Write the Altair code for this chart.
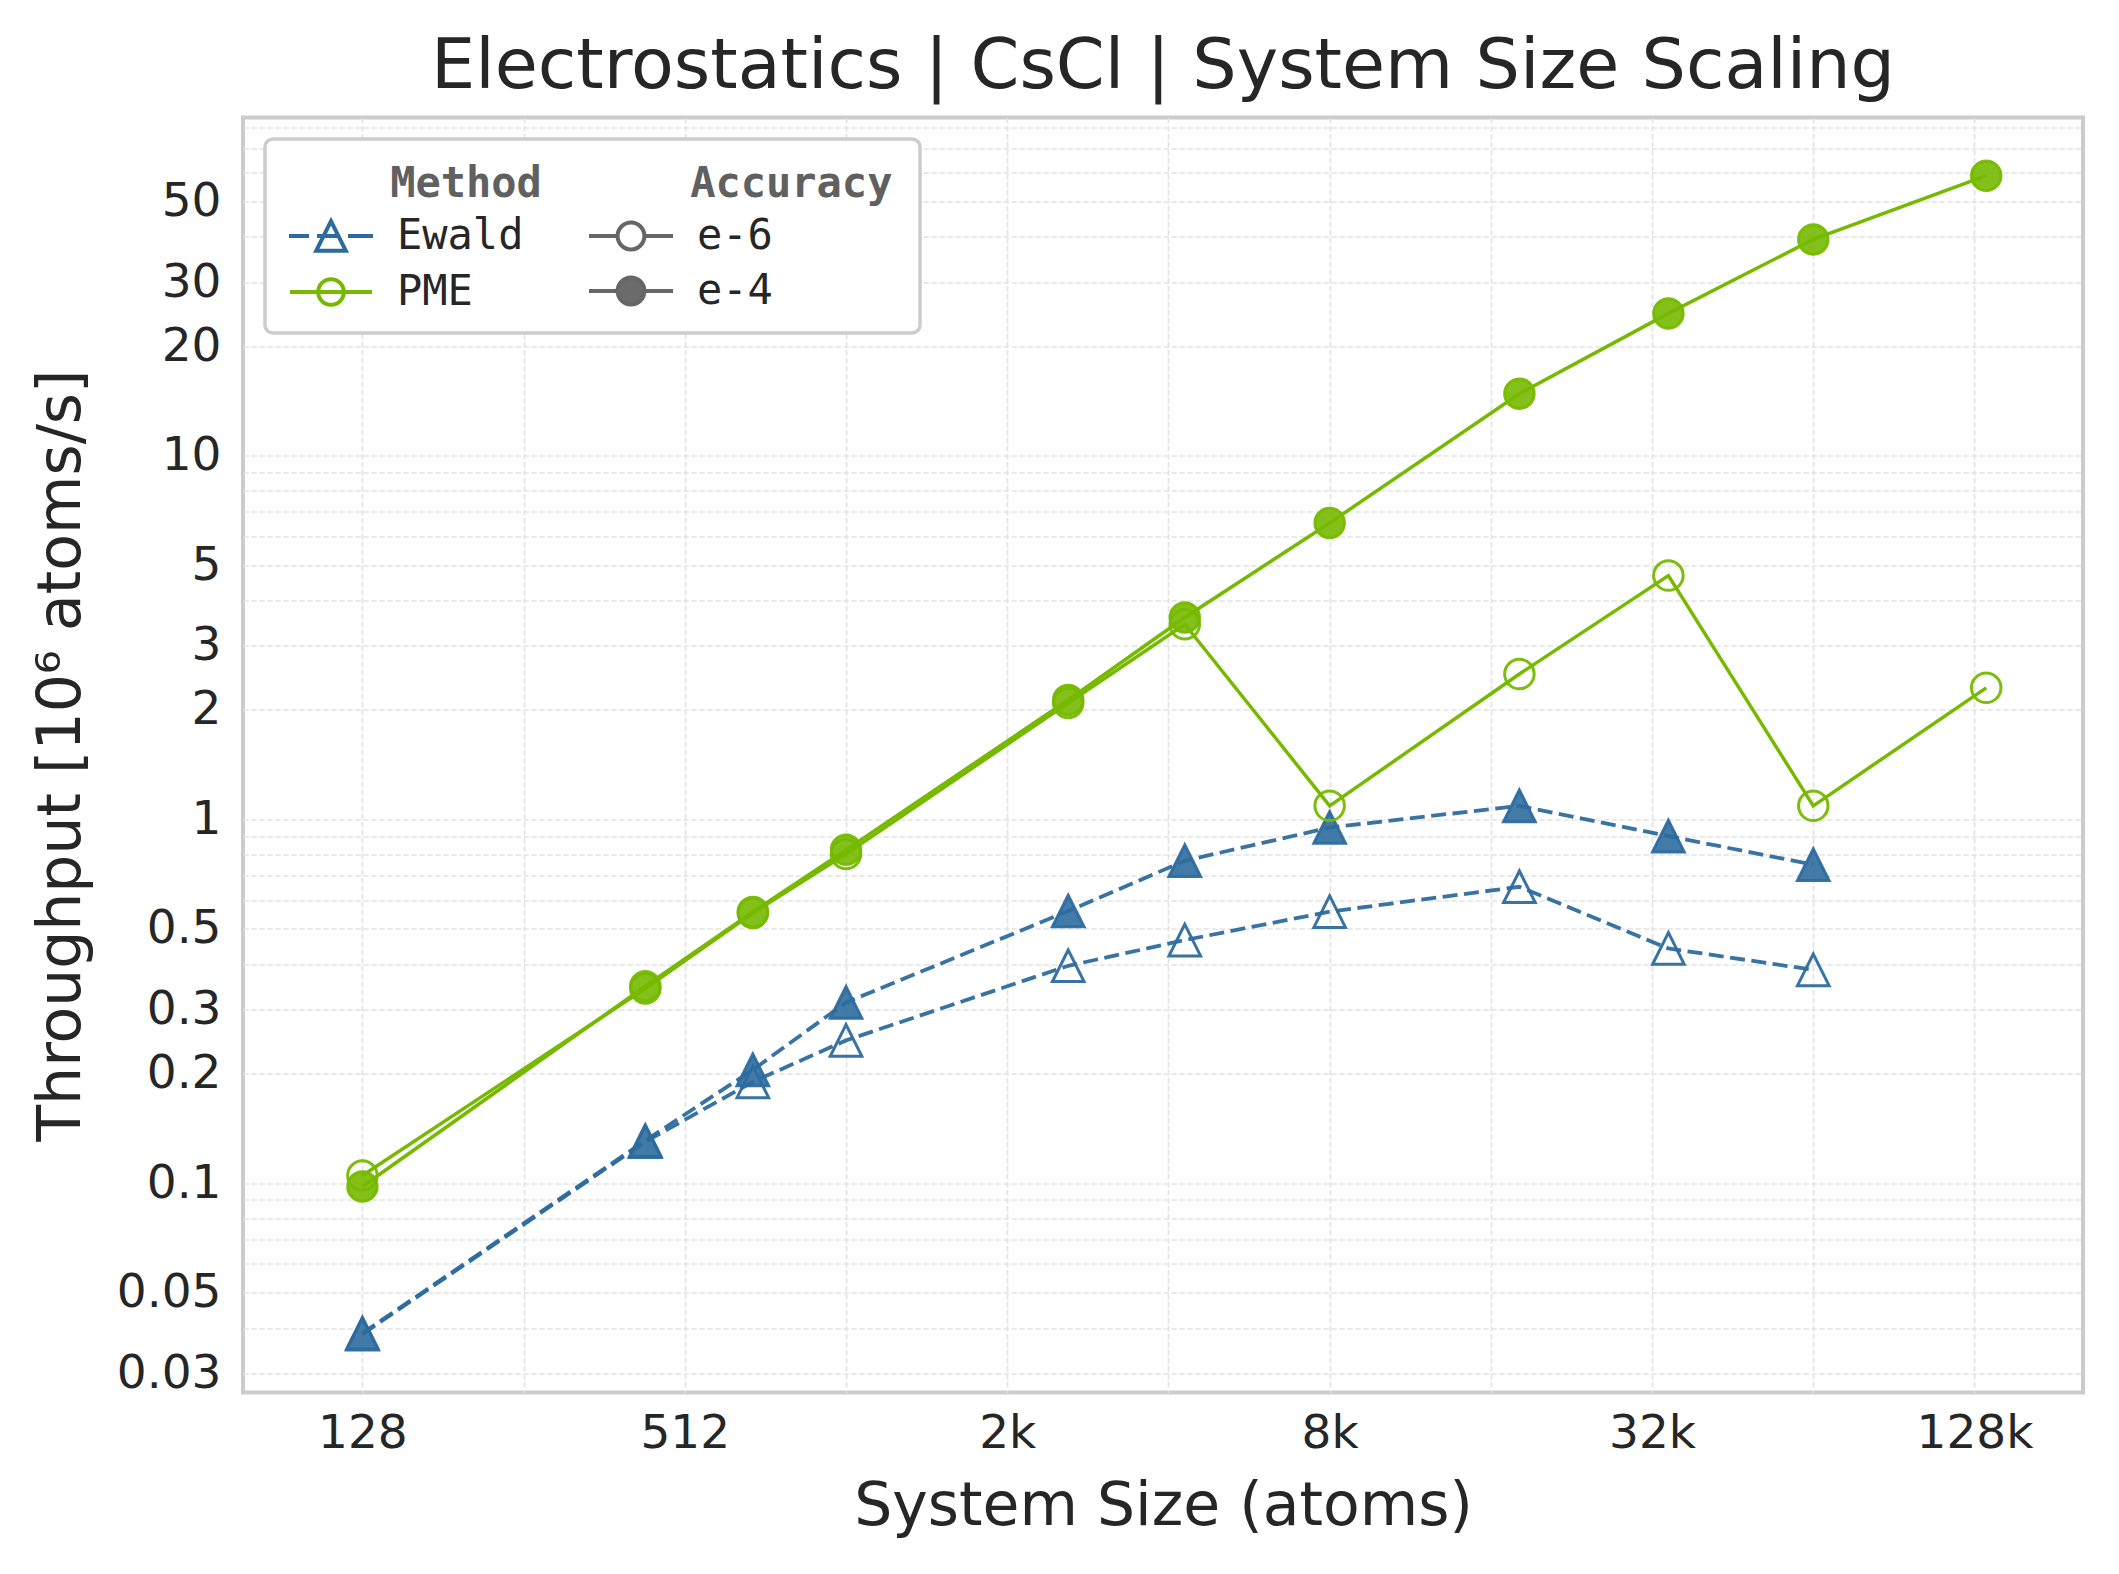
import altair as alt
import pandas as pd

# ---------------- data ----------------
SIZES = [128, 432, 686, 1024, 2662, 4394, 8192, 18522, 35152, 65536, 137842]
PME_E4 = [0.098, 0.348, 0.557, 0.825, 2.13, 3.59, 6.53, 14.8, 24.6, 39.3, 58.8]
PME_E6 = [0.105, 0.343, 0.553, 0.804, 2.09, 3.44, 1.09, 2.51, 4.68, 1.09, 2.30]
EWALD_SIZES = SIZES[:10]
EWALD_E4 = [0.0387, 0.131, 0.205, 0.314, 0.56, 0.77, 0.95, 1.09, 0.90, 0.751]
EWALD_E6 = [0.0385, 0.130, 0.190, 0.247, 0.396, 0.466, 0.558, 0.653, 0.442, 0.386]

METHODS = ["Ewald", "PME"]
ACCS = ["e-6", "e-4"]

X_GRID = [128 * 2 ** k for k in range(11)]
X_LABELS = {128: "128", 512: "512", 2048: "2k", 8192: "8k", 32768: "32k", 131072: "128k"}
Y_GRID = sorted(round(m * 10 ** k, 4) for k in range(-2, 2) for m in range(1, 10)
                if 0.0266 <= m * 10 ** k <= 85)
Y_LABELS = [0.03, 0.05, 0.1, 0.2, 0.3, 0.5, 1, 2, 3, 5, 10, 20, 30, 50]

rows = []
for s, v in zip(EWALD_SIZES, EWALD_E6):
    rows.append(dict(size=s, tput=v, method="Ewald", accuracy="e-6"))
for s, v in zip(EWALD_SIZES, EWALD_E4):
    rows.append(dict(size=s, tput=v, method="Ewald", accuracy="e-4"))
for s, v in zip(SIZES, PME_E6):
    rows.append(dict(size=s, tput=v, method="PME", accuracy="e-6"))
for s, v in zip(SIZES, PME_E4):
    rows.append(dict(size=s, tput=v, method="PME", accuracy="e-4"))
df = pd.DataFrame(rows)

# ---------------- style ----------------
BLUE = "#2d6b9f"
GREEN = "#76b900"
GREY = "#666666"
TXT = "#262626"
SANS = "DejaVu Sans"
MONO = "DejaVu Sans Mono"
PAD = "\u200b" + "\u00a0" * 4

x_label_expr = " : ".join(f"datum.value == {k} ? '{v}'" for k, v in X_LABELS.items()) + " : ''"
y_label_expr = ("(" + " || ".join(f"datum.value == {v}" for v in Y_LABELS) +
                ") ? format(datum.value, '~g') : ''")

X = alt.X("size:Q",
          scale=alt.Scale(type="log", base=2, domain=[76.6, 209000], nice=False),
          axis=alt.Axis(values=X_GRID, labelExpr=x_label_expr, title="System Size (atoms)",
                        labelOverlap=False, labelFlush=False))
Y = alt.Y("tput:Q",
          scale=alt.Scale(type="log", domain=[0.0266, 85], nice=False),
          axis=alt.Axis(values=Y_GRID, labelExpr=y_label_expr,
                        title="Throughput [10\u2076 atoms/s]",
                        labelOverlap=False, labelFlush=False))

base = alt.Chart(df)

ew = base.transform_filter(alt.datum.method == "Ewald")
pme = base.transform_filter(alt.datum.method == "PME")

ew_lines = ew.mark_line(color=BLUE, strokeDash=[15, 6.5], strokeWidth=3.8, opacity=0.95).encode(
    x=X, y=Y, detail="accuracy:N", order="size:Q")
ew_pts = ew.mark_point(shape="M0,-1L-1,1L1,1Z", size=1000, filled=True, stroke=BLUE,
                       strokeWidth=3, fillOpacity=0.9, strokeOpacity=0.95).encode(
    x=X, y=Y,
    fill=alt.condition(alt.datum.accuracy == "e-4", alt.value(BLUE), alt.value("transparent")))

pme_lines = pme.mark_line(color=GREEN, strokeWidth=3.5, opacity=1).encode(
    x=X, y=Y, detail="accuracy:N", order="size:Q")
pme_pts = pme.mark_point(shape="circle", size=870, filled=True, stroke=GREEN,
                         strokeWidth=3, fillOpacity=0.9, strokeOpacity=0.95).encode(
    x=X, y=Y,
    fill=alt.condition(alt.datum.accuracy == "e-4", alt.value(GREEN), alt.value("transparent")))

# ---------------- legend ----------------
PATH_EWALD = ("M-2.1,0H-1.1M-0.7,0H0.45M0.85,0H2.1"
              "M0,-0.74L-0.74,0.74L0.74,0.74Z")
PATH_PME = "M-2.05,0H2.05M-0.64,0A0.64,0.64 0 1,1 0.64,0A0.64,0.64 0 1,1 -0.64,0Z"
PATH_ACC = ("M-2.1,0H-0.67M0.67,0H2.1"
            "M-0.67,0A0.67,0.67 0 1,1 0.67,0A0.67,0.67 0 1,1 -0.67,0Z")

leg_common = dict(orient="none", padding=0, symbolSize=1600, symbolStrokeWidth=4,
                  symbolOffset=20, labelOffset=44, rowPadding=11, titlePadding=8.5,
                  symbolOpacity=1,
                  labelFont=MONO, labelFontSize=42, labelColor=TXT,
                  titleFont=MONO, titleFontSize=42, titleFontWeight="bold",
                  titleColor="#606060", titleAnchor="start", titleAlign="left",
                  labelLimit=400, titleLimit=600)

method_leg = alt.Legend(title=PAD + "Method", legendX=46, legendY=46, **leg_common)
acc_leg = alt.Legend(title=PAD + "Accuracy", legendX=346, legendY=46, **leg_common)

leg_method_layer = alt.Chart(pd.DataFrame({"method": METHODS})).mark_point(
    opacity=0, size=1600, strokeWidth=4).encode(
    stroke=alt.Stroke("method:N", scale=alt.Scale(domain=METHODS, range=[BLUE, GREEN]),
                      legend=method_leg),
    shape=alt.Shape("method:N", scale=alt.Scale(domain=METHODS, range=[PATH_EWALD, PATH_PME]),
                    legend=method_leg),
)
leg_acc_layer = alt.Chart(pd.DataFrame({"accuracy": ACCS})).mark_point(
    opacity=0, size=1600, strokeWidth=4).encode(
    stroke=alt.Stroke("accuracy:N", scale=alt.Scale(domain=ACCS, range=[GREY, GREY]),
                      legend=acc_leg),
    fill=alt.Fill("accuracy:N", scale=alt.Scale(domain=ACCS, range=["white", "#6b6b6b"]),
                  legend=acc_leg),
    shape=alt.Shape("accuracy:N", scale=alt.Scale(domain=ACCS, range=[PATH_ACC, PATH_ACC]),
                    legend=acc_leg),
)

legend_box = alt.Chart(pd.DataFrame({"k": [0]})).mark_rect(
    fill="white", stroke="#cccccc", strokeWidth=3.5, cornerRadius=8).encode(
    x=alt.value(22), x2=alt.value(677), y=alt.value(21.5), y2=alt.value(215.5))

chart = alt.layer(
    legend_box, ew_lines, ew_pts, pme_lines, pme_pts, leg_method_layer, leg_acc_layer
).resolve_scale(
    shape="independent", fill="independent", stroke="independent"
).properties(
    width=1840, height=1275,
    title=alt.TitleParams("Electrostatics | CsCl | System Size Scaling", font=SANS,
                          fontSize=70, fontWeight="normal", color=TXT, anchor="middle",
                          offset=0),
    autosize=alt.AutoSizeParams(type="none"),
    padding={"left": 235, "top": 109.5, "right": 28, "bottom": 170},
    background="white",
).configure_view(
    stroke="#cccccc", strokeWidth=4
).configure_axis(
    labelFont=SANS, labelFontSize=47, labelColor=TXT,
    titleFont=SANS, titleFontSize=60, titleFontWeight="normal", titleColor=TXT,
    grid=True, gridColor="#e3e3e3", gridDash=[5.5, 2.5], gridWidth=1.7,
    domain=False, ticks=False, tickSize=0,
).configure_axisX(
    labelPadding=18, titlePadding=21
).configure_axisY(
    labelPadding=22, titlePadding=24
)

chart.save("out.html", embed_options={"renderer": "svg", "actions": False})
